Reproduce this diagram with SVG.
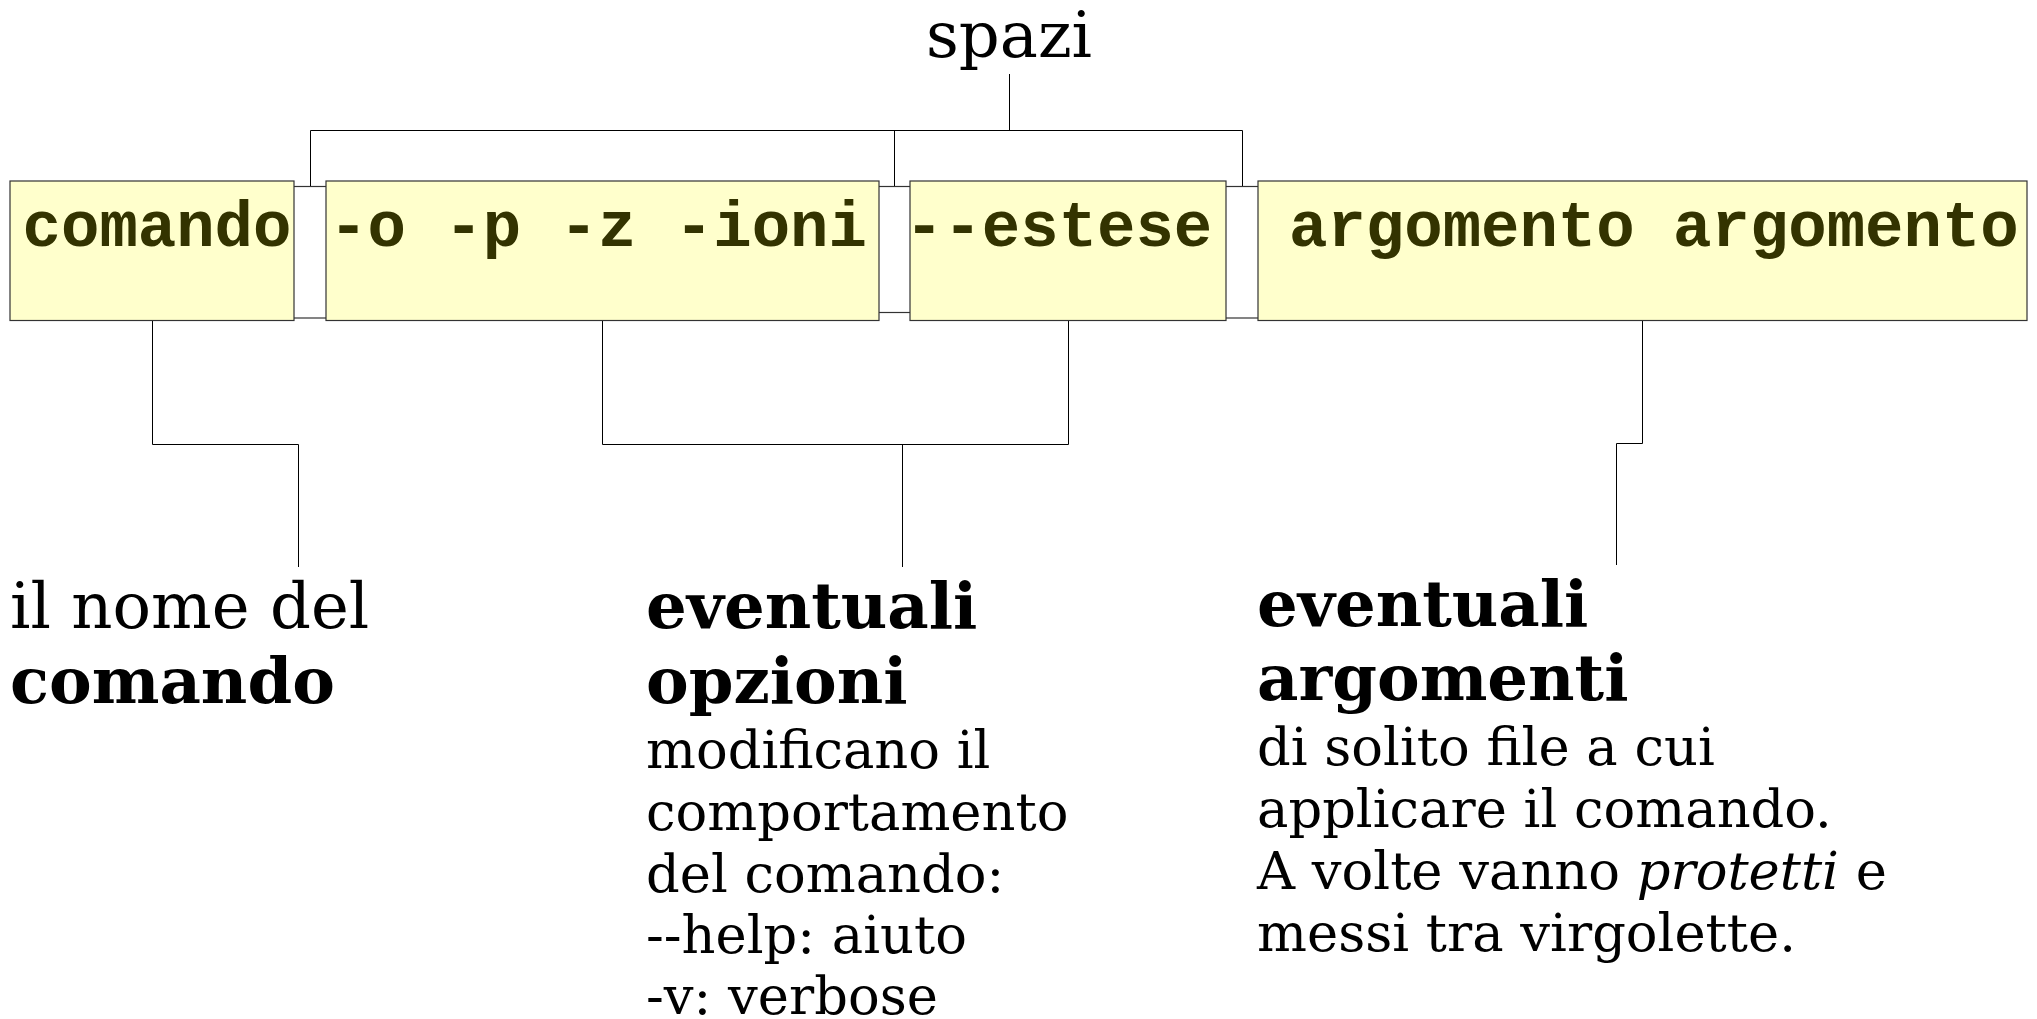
<svg xmlns="http://www.w3.org/2000/svg" width="2037" height="1019" viewBox="0 0 2037 1019">
<style>
.box{fill:#ffffcc;stroke:#333;stroke-width:1.2}
.gap{fill:#fff;stroke:#333;stroke-width:1.2}
.code{font-family:"Liberation Mono","Courier New",monospace;font-weight:bold;font-size:64px;fill:#333300}
.lbl{font-family:"DejaVu Serif",serif;font-size:64px;fill:#000}
.body{font-family:"DejaVu Serif",serif;font-size:52.7px;fill:#000}
.b{font-weight:bold}
.conn{fill:none;stroke:#000;stroke-width:1}
</style>
<rect width="2037" height="1019" fill="#fff"/>
<g id="gaps">
<rect class="gap" x="290" y="186.5" width="40" height="131.5"/>
<rect class="gap" x="874" y="186.5" width="40" height="126"/>
<rect class="gap" x="1222" y="186.5" width="40" height="131.5"/>
</g>
<g id="connectors">
<path class="conn" d="M1009.5 74 V130.5 M310.5 186 V130.5 H1242.5 V186 M894.5 130.5 V186"/>
<path class="conn" d="M152.5 320 V444.5 H298.5 V567"/>
<path class="conn" d="M602.5 320 V444.5 H1068.5 V320 M902.5 444.5 V567"/>
<path class="conn" d="M1642.5 320 V443.5 H1616.5 V565"/>
</g>
<g id="node-comando">
<rect class="box" x="10" y="181" width="284" height="139.5"/>
<text class="code" x="157" y="246" text-anchor="middle">comando</text>
</g>
<g id="node-opzioni">
<rect class="box" x="326" y="181" width="553" height="139.5"/>
<text class="code" x="598" y="246" text-anchor="middle">-o -p -z -ioni</text>
</g>
<g id="node-estese">
<rect class="box" x="910" y="181" width="316" height="139.5"/>
<text class="code" x="905" y="246">--estese</text>
</g>
<g id="node-argomenti">
<rect class="box" x="1258" y="181" width="769" height="139.5"/>
<text class="code" x="1289" y="246">argomento argomento</text>
</g>
<g id="label-spazi">
<text class="lbl" x="1009" y="57" text-anchor="middle">spazi</text>
</g>
<g id="label-comando">
<text class="lbl" x="10" y="628">il nome del</text>
<text class="lbl b" x="10" y="703">comando</text>
</g>
<g id="label-opzioni">
<text class="lbl b" x="646" y="628">eventuali</text>
<text class="lbl b" x="646" y="703">opzioni</text>
<text class="body" x="646" y="768">modificano il</text>
<text class="body" x="646" y="830">comportamento</text>
<text class="body" x="646" y="892">del comando:</text>
<text class="body" x="646" y="953">--help: aiuto</text>
<text class="body" x="646" y="1014">-v: verbose</text>
</g>
<g id="label-argomenti">
<text class="lbl b" x="1257" y="626">eventuali</text>
<text class="lbl b" x="1257" y="700">argomenti</text>
<text class="body" x="1257" y="765">di solito file a cui</text>
<text class="body" x="1257" y="827">applicare il comando.</text>
<text class="body" x="1257" y="889">A volte vanno <tspan font-style="italic">protetti</tspan> e</text>
<text class="body" x="1257" y="951">messi tra virgolette.</text>
</g>
</svg>
